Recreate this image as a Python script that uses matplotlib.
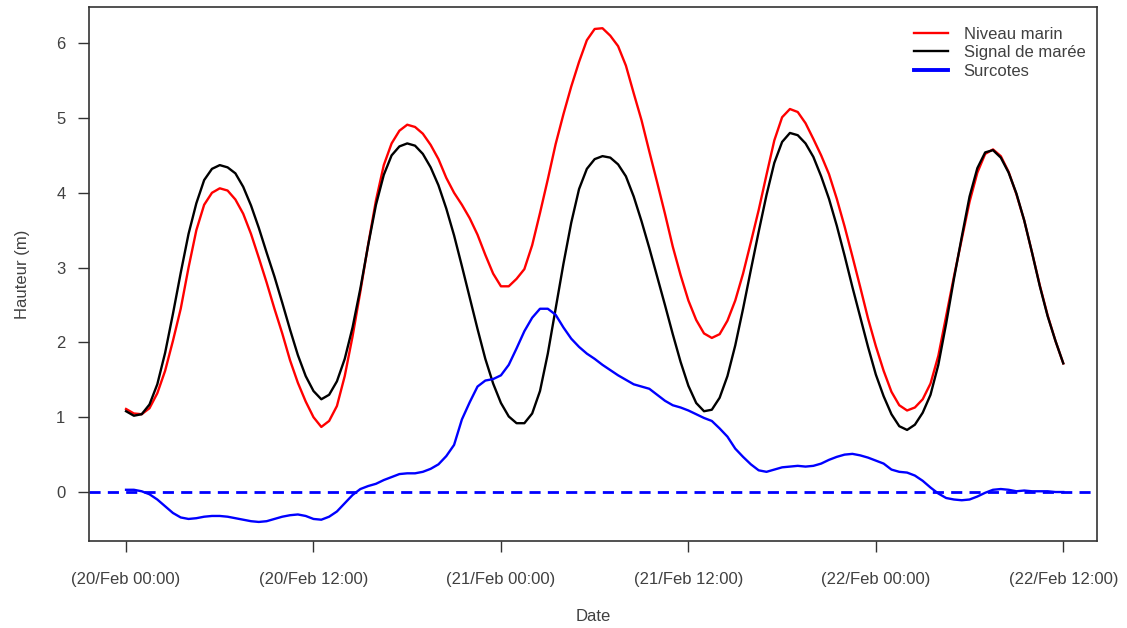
import numpy as np
import matplotlib
matplotlib.use("Agg")
import matplotlib.pyplot as plt

plt.rcParams["font.family"] = ["Liberation Sans", "DejaVu Sans"]
plt.rcParams["lines.solid_joinstyle"] = "round"

# ── data (half-hourly, hours since 20/Feb 00:00) ─────────────────────────────
hours = np.arange(0, 60.5, 0.5)

maree = [
    1.08, 1.02, 1.04, 1.17, 1.44, 1.86, 2.38, 2.93, 3.45, 3.86,
    4.17, 4.32, 4.37, 4.34, 4.26, 4.08, 3.83, 3.53, 3.20, 2.88,
    2.53, 2.17, 1.83, 1.55, 1.35, 1.24, 1.30, 1.48, 1.78, 2.20,
    2.72, 3.30, 3.84, 4.24, 4.50, 4.62, 4.66, 4.63, 4.52, 4.34,
    4.10, 3.79, 3.43, 3.02, 2.60, 2.18, 1.78, 1.45, 1.19, 1.01,
    0.92, 0.92, 1.05, 1.35, 1.85, 2.45, 3.05, 3.60, 4.05, 4.32,
    4.45, 4.49, 4.47, 4.38, 4.22, 3.95, 3.62, 3.26, 2.88, 2.50,
    2.11, 1.74, 1.42, 1.19, 1.08, 1.10, 1.26, 1.55, 1.96, 2.45,
    2.97, 3.48, 3.97, 4.40, 4.68, 4.80, 4.77, 4.66, 4.48, 4.22,
    3.92, 3.56, 3.16, 2.74, 2.34, 1.94, 1.57, 1.28, 1.04, 0.88,
    0.83, 0.90, 1.06, 1.30, 1.70, 2.25, 2.85, 3.41, 3.95, 4.33,
    4.54, 4.57, 4.47, 4.27, 3.99, 3.63, 3.20, 2.75, 2.35, 2.02,
    1.72,
]

niveau = [
    1.11, 1.05, 1.04, 1.12, 1.32, 1.62, 2.02, 2.45, 3.00, 3.50,
    3.84, 4.00, 4.06, 4.03, 3.91, 3.72, 3.45, 3.13, 2.80, 2.45,
    2.12, 1.76, 1.46, 1.21, 1.00, 0.87, 0.95, 1.15, 1.55, 2.08,
    2.68, 3.31, 3.90, 4.37, 4.66, 4.83, 4.91, 4.88, 4.79, 4.64,
    4.45, 4.20, 4.00, 3.84, 3.66, 3.44, 3.17, 2.92, 2.75, 2.75,
    2.85, 2.98, 3.30, 3.73, 4.18, 4.65, 5.05, 5.42, 5.75, 6.04,
    6.19, 6.20, 6.10, 5.96, 5.70, 5.33, 4.97, 4.55, 4.14, 3.72,
    3.28, 2.90, 2.56, 2.30, 2.12, 2.06, 2.11, 2.29, 2.56, 2.92,
    3.34, 3.77, 4.24, 4.70, 5.01, 5.12, 5.08, 4.93, 4.72, 4.50,
    4.25, 3.92, 3.55, 3.15, 2.74, 2.32, 1.95, 1.62, 1.34, 1.16,
    1.09, 1.13, 1.24, 1.45, 1.82, 2.35, 2.88, 3.38, 3.88, 4.27,
    4.52, 4.58, 4.49, 4.28, 3.98, 3.63, 3.20, 2.76, 2.36, 2.02,
    1.72,
]

surcotes = [
    0.03, 0.03, 0.01, -0.03, -0.10, -0.19, -0.28, -0.34, -0.36, -0.35,
    -0.33, -0.32, -0.32, -0.33, -0.35, -0.37, -0.39, -0.40, -0.39, -0.36,
    -0.33, -0.31, -0.30, -0.32, -0.36, -0.37, -0.33, -0.26, -0.15, -0.04,
    0.04, 0.08, 0.11, 0.16, 0.20, 0.24, 0.25, 0.25, 0.27, 0.31,
    0.37, 0.48, 0.63, 0.97, 1.20, 1.41, 1.49, 1.51, 1.56, 1.70,
    1.92, 2.15, 2.33, 2.45, 2.45, 2.37, 2.20, 2.05, 1.94, 1.85,
    1.78, 1.70, 1.63, 1.56, 1.50, 1.44, 1.41, 1.38, 1.30, 1.22,
    1.16, 1.13, 1.09, 1.04, 0.99, 0.95, 0.85, 0.74, 0.58, 0.47,
    0.37, 0.29, 0.27, 0.30, 0.33, 0.34, 0.35, 0.34, 0.35, 0.38,
    0.43, 0.47, 0.50, 0.51, 0.49, 0.46, 0.42, 0.38, 0.30, 0.27,
    0.26, 0.22, 0.15, 0.06, -0.02, -0.08, -0.10, -0.11, -0.10, -0.06,
    -0.01, 0.03, 0.04, 0.03, 0.01, 0.02, 0.01, 0.01, 0.01, 0.00,
    0.00,
]

tick_hours  = [0, 12, 24, 36, 48, 60]
tick_labels = ["(20/Feb 00:00)", "(20/Feb 12:00)", "(21/Feb 00:00)",
               "(21/Feb 12:00)", "(22/Feb 00:00)", "(22/Feb 12:00)"]

TXT = "#404040"

# ── plot ─────────────────────────────────────────────────────────────────────
fig = plt.figure(figsize=(11.27, 6.28), dpi=100)
ax = fig.add_axes([0.079, 0.1385, 0.8944, 0.8504])

ax.axhline(0, color="#0000ff", lw=2.0, dashes=(4, 2.6))
ax.plot(hours, niveau, color="#ff0000", lw=1.7, label="Niveau marin")
ax.plot(hours, maree, color="black", lw=1.7, label="Signal de marée")
ax.plot(hours, surcotes, color="#0000ff", lw=1.7, label="Surcotes")

ax.set_xlim(-2.37, 62.16)
ax.set_ylim(-0.655, 6.484)

ax.set_xticks(tick_hours)
ax.set_xticklabels(tick_labels)
ax.set_yticks(range(0, 7))
ax.tick_params(direction="out", length=8, width=1, colors="#333333",
               labelcolor=TXT, labelsize=12)
ax.tick_params(axis="x", pad=14)
ax.tick_params(axis="y", pad=9)

for s in ax.spines.values():
    s.set_color("#333333")
    s.set_linewidth(1.2)

ax.set_xlabel("Date", color=TXT, fontsize=12, labelpad=16)
ax.set_ylabel("Hauteur (m)", color=TXT, fontsize=12, labelpad=19)

leg = ax.legend(loc="upper right", bbox_to_anchor=(1.0, 0.985), frameon=False,
                fontsize=12, handlelength=2.0, handletextpad=0.95,
                labelspacing=0.22, borderaxespad=0.3)
for t in leg.get_texts():
    t.set_color(TXT)
leg.get_lines()[2].set_linewidth(2.8)

fig.savefig("out.png", dpi=100)
